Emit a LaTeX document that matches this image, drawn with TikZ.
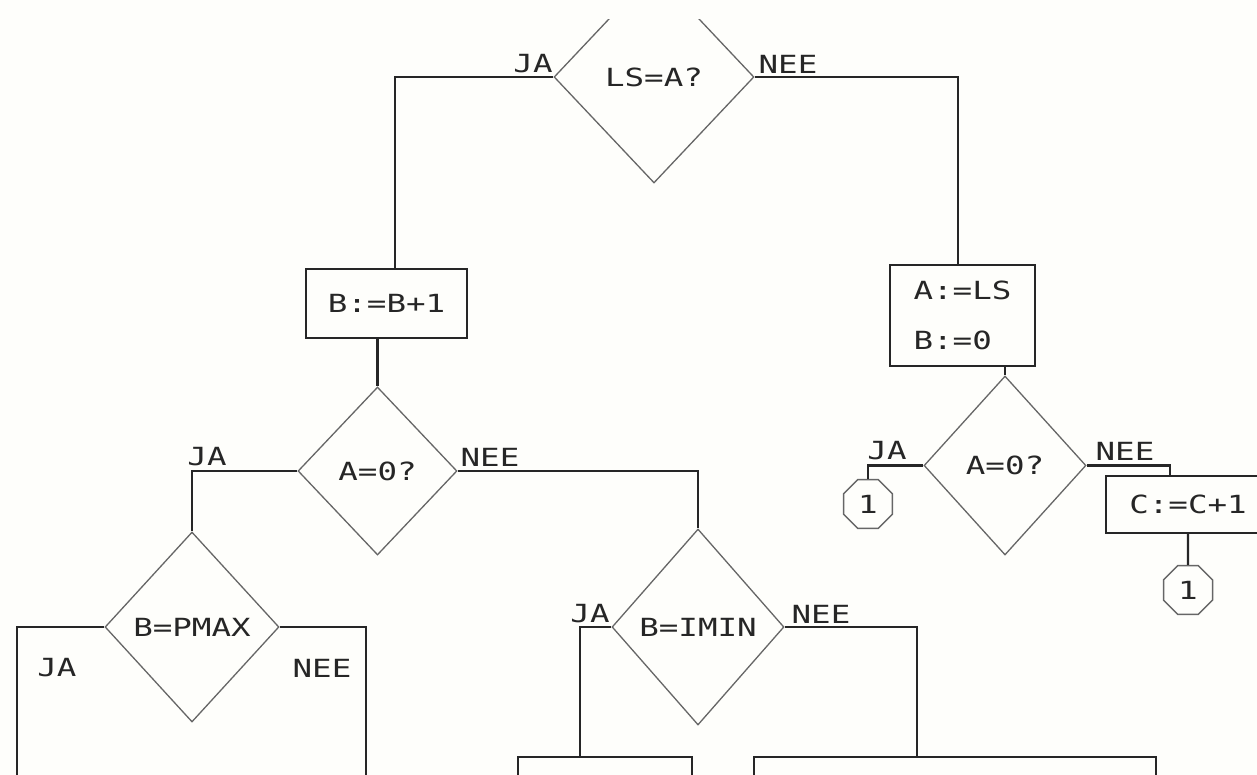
\documentclass[tikz,border=0pt]{standalone}
\usepackage{fontspec}
\newfontfamily\plotfont[FakeStretch=1.3]{DejaVu Sans Mono}
\usetikzlibrary{shapes.geometric}
\definecolor{paper}{HTML}{FEFEFB}
\definecolor{ink}{HTML}{262626}
\definecolor{pale}{HTML}{666666}
\begin{document}
\begin{tikzpicture}[x=1pt,y=-1pt,
  every node/.style={font=\plotfont\fontsize{25}{30}\selectfont, text=ink},
  dia/.style={diamond, draw=pale, line width=1.3pt, inner sep=0pt},
  proc/.style={rectangle, draw=ink, line width=2.4pt, inner sep=0pt},
  link/.style={draw=ink, line width=2.4pt},
  conn/.style={regular polygon, regular polygon sides=8, draw=pale, line width=1.5pt, minimum size=53pt, inner sep=0pt},
  lbl/.style={inner sep=0pt}]
\useasboundingbox (0,0) rectangle (1257,775);
\fill[paper] (0,0) rectangle (1257,775);
\clip (0,20) rectangle (1257,775);

% decision and process nodes
\node[dia, minimum width=200pt, minimum height=212pt] (d1) at (654,77) {\raisebox{-5pt}{LS=A?}};
\node[proc, minimum width=161pt, minimum height=69pt] (b1) at (386.5,303.5) {B:=B+1};
\node[dia, minimum width=159pt, minimum height=168pt] (d2) at (377.5,471) {A=0?};
\node[dia, minimum width=174pt, minimum height=190pt] (d3) at (192,627) {B=PMAX};
\node[dia, minimum width=172pt, minimum height=196pt] (d4) at (698,627) {B=IMIN};
\node[proc, minimum width=174pt, minimum height=66pt] (bl) at (605,790) {};
\node[proc, minimum width=402pt, minimum height=66pt] (br) at (955,790) {};
\node[proc, align=left, minimum width=145pt, minimum height=101pt,
      font=\plotfont\fontsize{25}{50}\selectfont] (b2) at (962.5,315.5) {A:=LS\\B:=0};
\node[dia, minimum width=162pt, minimum height=179pt] (d5) at (1005,465.5) {A=0?};
\node[conn] (c1) at (868,504) {1};
\node[proc, minimum width=164pt, minimum height=57pt] (b3) at (1188,504.5) {C:=C+1};
\node[conn] (c2) at (1188,590) {1};

\coordinate (e1) at (17,790);
\coordinate (e2) at (366,790);

% connectors
\draw[link] (d1.west) -| ([xshift=8.5pt]b1.north);
\draw[link] (d1.east) -| ([xshift=-4.5pt]b2.north);
\draw[link] (b1.south -| d2.north) -- (d2.north);
\draw[link] (d2.west) -| (d3.north);
\draw[link] (d2.east) -| (d4.north);
\draw[link] (d3.west) -| (e1);
\draw[link] (d3.east) -| (e2);
\draw[link] (d4.west) -| ([xshift=-25pt]bl.north);
\draw[link] (d4.east) -| ([xshift=-38pt]br.north);
\draw[link] (b2.south -| d5.north) -- (d5.north);
\draw[link] (d5.west) -| (c1.north);
\draw[link] (d5.east) -| ([xshift=-18pt]b3.north);
\draw[link] (b3.south) -- (c2.north);

% branch labels
\node[lbl] (l1) at (533,64) {JA};
\node[lbl] (l2) at (788,64) {NEE};
\node[lbl] (l3) at (207,457) {JA};
\node[lbl] (l4) at (490,457) {NEE};
\node[lbl] (l5) at (887,451) {JA};
\node[lbl] (l6) at (1125,451) {NEE};
\node[lbl] (l7) at (57,668) {JA};
\node[lbl] (l8) at (322,668) {NEE};
\node[lbl] (l9) at (590,614) {JA};
\node[lbl] (l10) at (821,614) {NEE};
\end{tikzpicture}
\end{document}
